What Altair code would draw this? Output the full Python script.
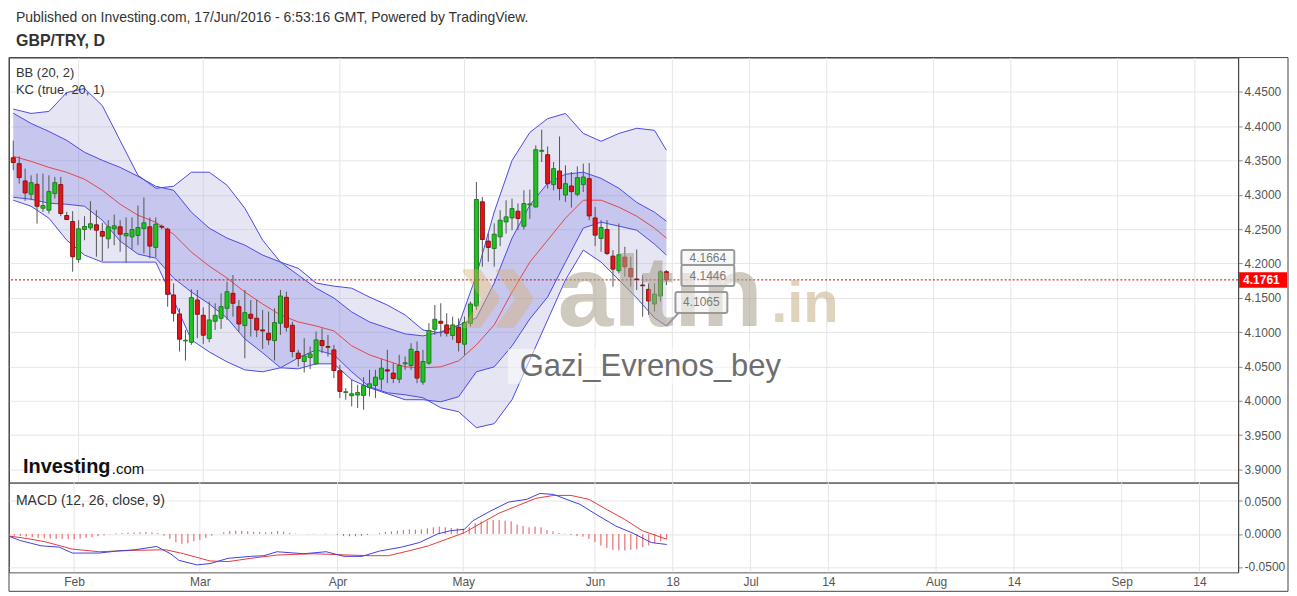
import altair as alt
import pandas as pd

# ---------------- data (bar index 0 = 15 Jan 2016 ... 110 = 17 Jun 2016) ----------------
opens = [4.354, 4.3454, 4.3203, 4.3009, 4.3154, 4.2805, 4.2776, 4.3018, 4.3149, 4.2699,
         4.2611, 4.2059, 4.2495, 4.2519, 4.2563, 4.2466, 4.2360, 4.2505, 4.2534, 4.2403,
         4.2389, 4.2408, 4.2510, 4.2534, 4.2234, 4.2540, 4.2500, 4.1541, 4.1265, 4.0872,
         4.0853, 4.1468, 4.1245, 4.0906, 4.1158, 4.1202, 4.1347, 4.1565, 4.1371, 4.1095,
         4.1260, 4.1202, 4.1032, 4.0984, 4.0877, 4.1129, 4.1507, 4.1100, 4.0693, 4.0572,
         4.0630, 4.0538, 4.0877, 4.0790, 4.0741, 4.0437, 4.0121, 4.0073, 4.0083, 4.0078,
         4.0194, 4.0223, 4.0315, 4.0451, 4.0403, 4.0315, 4.0538, 4.0514, 4.0717, 4.0272,
         4.0548, 4.1042, 4.1158, 4.1105, 4.0950, 4.1071, 4.0824, 4.1129, 4.1381, 4.2898,
         4.2326, 4.2219, 4.2388, 4.2606, 4.2664, 4.2761, 4.2543, 4.2853, 4.2824, 4.3634,
         4.3585, 4.3149, 4.3348, 4.2997, 4.3129, 4.3008, 4.3149, 4.3236, 4.2664, 4.2364,
         4.2495, 4.2107, 4.1894, 4.2093, 4.1928, 4.1773, 4.1686, 4.1623, 4.1410, 4.1526,
         4.1880]
highs = [4.379, 4.3561, 4.3382, 4.3285, 4.3309, 4.3309, 4.3285, 4.3261, 4.3261, 4.2752,
         4.2762, 4.2631, 4.2689, 4.2907, 4.2776, 4.2592, 4.2631, 4.2713, 4.2631, 4.2670,
         4.2670, 4.2844, 4.2960, 4.2670, 4.2670, 4.2565, 4.2520, 4.1710, 4.1347, 4.1032,
         4.1623, 4.1614, 4.1362, 4.1444, 4.1420, 4.1565, 4.1735, 4.1832, 4.1468, 4.1614,
         4.1468, 4.1468, 4.1323, 4.1299, 4.1347, 4.1614, 4.1589, 4.1153, 4.0741, 4.0911,
         4.0790, 4.1008, 4.1056, 4.0960, 4.0814, 4.0524, 4.0184, 4.0305, 4.0233, 4.0344,
         4.0451, 4.0451, 4.0606, 4.0742, 4.0548, 4.0669, 4.0645, 4.0839, 4.0863, 4.0742,
         4.1129, 4.1396, 4.1420, 4.1275, 4.1226, 4.1202, 4.1226, 4.1444, 4.3188, 4.2970,
         4.2437, 4.2583, 4.2776, 4.2921, 4.2945, 4.2873, 4.3067, 4.3076, 4.3721, 4.3948,
         4.3706, 4.3478, 4.3851, 4.3430, 4.3333, 4.3415, 4.3454, 4.3464, 4.2824, 4.2631,
         4.2631, 4.2195, 4.2582, 4.2243, 4.2098, 4.2204, 4.1831, 4.1710, 4.1710, 4.1904,
         4.1904]
lows = [4.336, 4.3164, 4.2912, 4.2922, 4.2582, 4.2752, 4.2728, 4.2946, 4.2689, 4.2631,
        4.1880, 4.2011, 4.2339, 4.2485, 4.2098, 4.2035, 4.2219, 4.2267, 4.2171, 4.2011,
        4.2204, 4.2267, 4.2146, 4.2074, 4.2088, 4.2500, 4.1370, 4.1153, 4.0717, 4.0586,
        4.0814, 4.0911, 4.0829, 4.0853, 4.1032, 4.1047, 4.1178, 4.1226, 4.1008, 4.0620,
        4.0935, 4.0926, 4.0756, 4.0814, 4.0586, 4.0960, 4.1008, 4.0635, 4.0499, 4.0412,
        4.0461, 4.0524, 4.0693, 4.0645, 4.0330, 4.0040, 4.0015, 3.9918, 3.9894, 3.9870,
        4.0063, 4.0039, 4.0160, 4.0257, 4.0257, 4.0257, 4.0451, 4.0451, 4.0257, 4.0233,
        4.0524, 4.0960, 4.0935, 4.0935, 4.0887, 4.0717, 4.0669, 4.1081, 4.1323, 4.1953,
        4.2026, 4.1952, 4.2253, 4.2437, 4.2485, 4.2485, 4.2495, 4.2650, 4.2815, 4.3478,
        4.3091, 4.3067, 4.2921, 4.2897, 4.2815, 4.2979, 4.3042, 4.2631, 4.2253, 4.2170,
        4.2122, 4.1662, 4.1855, 4.1807, 4.1662, 4.1613, 4.1225, 4.1250, 4.1298, 4.1444,
        4.1686]
closes = [4.347, 4.3251, 4.3028, 4.3178, 4.2834, 4.2844, 4.3048, 4.3178, 4.2728, 4.2641,
          4.2098, 4.2505, 4.2539, 4.2578, 4.2485, 4.2398, 4.2534, 4.2548, 4.2427, 4.2437,
          4.2495, 4.2524, 4.2592, 4.2253, 4.2573, 4.2530, 4.1551, 4.1274, 4.0897, 4.0882,
          4.1502, 4.1260, 4.0955, 4.1178, 4.1245, 4.1371, 4.1589, 4.1420, 4.1119, 4.1284,
          4.1202, 4.1032, 4.1017, 4.0887, 4.1139, 4.1526, 4.1071, 4.0717, 4.0615, 4.0654,
          4.0683, 4.0887, 4.0804, 4.0780, 4.0441, 4.0136, 4.0131, 4.0102, 4.0121, 4.0223,
          4.0247, 4.0344, 4.0475, 4.0432, 4.0325, 4.0514, 4.0553, 4.0751, 4.0330, 4.0572,
          4.1023, 4.1187, 4.1129, 4.0984, 4.1105, 4.0848, 4.1139, 4.1410, 4.2932, 4.2350,
          4.2234, 4.2427, 4.2631, 4.2679, 4.2800, 4.2655, 4.2873, 4.2868, 4.3658, 4.3648,
          4.3163, 4.3381, 4.3091, 4.3163, 4.3047, 4.3251, 4.3260, 4.2693, 4.2413, 4.2524,
          4.2146, 4.1918, 4.2127, 4.1952, 4.1807, 4.1768, 4.1676, 4.1453, 4.1555, 4.1880,
          4.1761]

band_idx = [0, 3, 6, 9, 12, 15, 18, 21, 24, 27, 30, 33, 36, 39, 42, 45, 48, 51, 54, 57,
            60, 63, 66, 69, 72, 75, 78, 81, 84, 87, 90, 93, 96, 99, 102, 105, 108, 110]
bb_upper = [4.425, 4.4186, 4.4215, 4.449, 4.455, 4.430, 4.379, 4.3285, 4.3096, 4.3125,
            4.333, 4.333, 4.314, 4.2805, 4.234, 4.202, 4.193, 4.1715, 4.167, 4.164,
            4.151, 4.1395, 4.125, 4.103, 4.099, 4.110, 4.183, 4.275, 4.350, 4.391,
            4.411, 4.4186, 4.3895, 4.378, 4.3895, 4.397, 4.394, 4.365]
bb_lower = [4.2922, 4.2834, 4.266, 4.234, 4.2122, 4.202, 4.202, 4.202, 4.202, 4.1468,
            4.0887, 4.0712, 4.0567, 4.045, 4.0422, 4.048, 4.0625, 4.0741, 4.0669, 4.0422,
            4.0203, 4.0116, 4.0087, 4.0044, 3.9898, 3.984, 3.9608, 3.9666, 4.0015, 4.0596,
            4.1177, 4.1759, 4.2195, 4.202, 4.1759, 4.1497, 4.1206, 4.109]
kc_upper = [4.4190, 4.404, 4.3924, 4.3794, 4.362, 4.3503, 4.340, 4.327, 4.3125, 4.3067,
            4.2747, 4.2515, 4.237, 4.2267, 4.2122, 4.202, 4.183, 4.1642, 4.1497, 4.1294,
            4.1148, 4.1061, 4.0974, 4.0945, 4.1003, 4.110, 4.1206, 4.1715, 4.237, 4.285,
            4.317, 4.330, 4.333, 4.324, 4.3096, 4.289, 4.2747, 4.2616]
kc_mid = [4.3561, 4.3488, 4.340, 4.3328, 4.3227, 4.3067, 4.2863, 4.2703, 4.260, 4.2427,
          4.2166, 4.1962, 4.1788, 4.1584, 4.141, 4.125, 4.1148, 4.109, 4.1017, 4.080,
          4.0669, 4.0581, 4.0494, 4.048, 4.0494, 4.0581, 4.0814, 4.1105, 4.1584, 4.202,
          4.234, 4.266, 4.2922, 4.2922, 4.282, 4.2689, 4.2515, 4.2369]
kc_lower = [4.2965, 4.2936, 4.2878, 4.2863, 4.2834, 4.263, 4.2326, 4.2137, 4.2078, 4.1788,
            4.1584, 4.1410, 4.1206, 4.0901, 4.0698, 4.048, 4.0465, 4.0538, 4.0538, 4.0305,
            4.0189, 4.0102, 4.0015, 4.0015, 3.9985, 4.0058, 4.0422, 4.0494, 4.0799, 4.1192,
            4.1512, 4.2020, 4.2515, 4.2602, 4.2544, 4.2485, 4.2282, 4.2122]

macd_idx = [0, 2, 5.5, 8.5, 10.7, 15.2, 18.1, 21.1, 24.8, 27.1, 28.5, 31.5, 33.7, 36.7,
            40.5, 42.7, 44.9, 49.4, 53.1, 56.1, 59.1, 62, 65.7, 68.7, 71.7, 73.9, 76.2,
            77.6, 80.6, 83.6, 86.6, 88.8, 91.1, 94, 95.5, 98.5, 101.5, 104.4, 107.4, 110]
macd_vals = [-0.003, -0.010, -0.018, -0.020, -0.029, -0.029, -0.026, -0.024, -0.019, -0.030,
             -0.040, -0.047, -0.045, -0.037, -0.034, -0.033, -0.027, -0.030, -0.027, -0.034,
             -0.034, -0.026, -0.020, -0.013, 0.000, 0.005, 0.007, 0.020, 0.035, 0.0485,
             0.0525, 0.0615, 0.060, 0.050, 0.045, 0.028, 0.012, 0.001, -0.013, -0.016]
signal_idx = [0, 3.2, 6.2, 10.7, 15.2, 20.4, 26.3, 29.3, 33.7, 36.7, 40.5, 44.9, 50.9, 56.8,
              60.5, 63.5, 67.2, 70.2, 73.2, 76.2, 79.1, 82.1, 85.1, 88.1, 91.1, 94, 97, 100,
              103, 105.9, 110]
signal_vals = [-0.003, -0.007, -0.012, -0.023, -0.027, -0.025, -0.024, -0.030, -0.041, -0.042,
               -0.037, -0.032, -0.030, -0.032, -0.033, -0.033, -0.025, -0.018, -0.008, 0.002,
               0.017, 0.032, 0.043, 0.054, 0.0585, 0.0585, 0.0525, 0.037, 0.022, 0.005, -0.008]
hist_vals = [-0.0015, -0.0025, -0.0030, -0.0040, -0.0050, -0.0060, -0.0065, -0.0070, -0.0075, -0.0075,
             -0.0080, -0.0080, -0.0070, -0.0060, -0.0050, -0.0035, -0.0020, -0.0005, 0.0010, 0.0015,
             0.0020, 0.0020, 0.0025, 0.0030, 0.0025, 0.0015, -0.0025, -0.0075, -0.0126, -0.0151,
             -0.0141, -0.0111, -0.0091, -0.0060, -0.0025, 0.0, 0.0025, 0.0045, 0.0050, 0.0045,
             0.0040, 0.0035, 0.0030, 0.0025, 0.0030, 0.0045, 0.0035, 0.0015, 0.0005, 0.0,
             -0.0005, 0.0005, 0.0, 0.0005, 0.0, -0.0015, -0.0030, -0.0035, -0.0035, -0.0030,
             -0.0015, 0.0, 0.0015, 0.0030, 0.0040, 0.0050, 0.0060, 0.0070, 0.0065, 0.0070,
             0.0086, 0.0101, 0.0111, 0.0101, 0.0091, 0.0086, 0.0080, 0.0101, 0.0161, 0.0191,
             0.0201, 0.0211, 0.0211, 0.0201, 0.0191, 0.0141, 0.0121, 0.0101, 0.0111, 0.0101,
             0.0060, 0.0040, 0.0015, 0.0005, -0.0015, -0.0030, -0.0040, -0.0075, -0.0121, -0.0176,
             -0.0211, -0.0241, -0.0252, -0.0252, -0.0241, -0.0231, -0.0201, -0.0176, -0.0141, -0.0111,
             -0.0075]

tick_idx = [11, 32, 55, 76, 98, 111, 124, 137, 155, 168, 186, 199]
tick_labels = ["Feb", "Mar", "Apr", "May", "Jun", "18", "Jul", "14", "Aug", "14", "Sep", "14"]
price_ticks = [3.90, 3.95, 4.00, 4.05, 4.10, 4.15, 4.20, 4.25, 4.30, 4.35, 4.40, 4.45]
macd_ticks = [-0.05, 0.0, 0.05]
last_price = 4.1761
callout_labels = ["4.1664", "4.1446", "4.1065"]

# ---------------- layout constants ----------------
FONT = "Liberation Sans"
W = 1232
H_PRICE = 426
H_MACD = 90
X_DOMAIN = [0.12, 205.45]
P_DOMAIN = [3.8808, 4.5]
M_DOMAIN = [-0.0583, 0.078]

n = len(opens)
candles = pd.DataFrame({
    "i": list(range(n)), "open": opens, "high": highs, "low": lows, "close": closes,
})
candles["dir"] = ["up" if c >= o else "down" for o, c in zip(opens, closes)]
bands = pd.DataFrame({"i": band_idx, "bbu": bb_upper, "bbl": bb_lower,
                      "kcu": kc_upper, "kcm": kc_mid, "kcl": kc_lower})
macd_df = pd.DataFrame({"i": macd_idx, "v": macd_vals})
sig_df = pd.DataFrame({"i": signal_idx, "v": signal_vals})
hist_df = pd.DataFrame({"i": list(range(n)), "h": hist_vals, "z": [0.0] * n})
ticks_df = pd.DataFrame({"i": tick_idx, "label": tick_labels})
one = pd.DataFrame({"k": [0]})
last_df = pd.DataFrame({"p": [last_price], "hi": [last_price + 0.0113], "lo": [last_price - 0.0113],
                        "s": [f"{last_price:.4f}"]})

xs = alt.Scale(domain=X_DOMAIN, nice=False, zero=False)
ps = alt.Scale(domain=P_DOMAIN, nice=False, zero=False)
ms = alt.Scale(domain=M_DOMAIN, nice=False, zero=False)

price_axis = alt.Axis(orient="right", values=price_ticks, format=".4f", grid=True,
                      gridColor="#e6e6e6", domainColor="#444", tickColor="#888",
                      tickSize=4, labelColor="#555", labelFontSize=12, labelFont=FONT,
                      labelPadding=2, title=None)
label_map = "{" + ",".join(f"'{i}':'{l}'" for i, l in zip(tick_idx, tick_labels)) + "}"
x_axis = alt.Axis(values=tick_idx, labelExpr=f"{label_map}['' + datum.value]", grid=False,
                  ticks=False, domain=False, labelColor="#555", labelFontSize=12, labelFont=FONT,
                  labelPadding=4, labelOverlap=False, labelFlush=False, title=None)
macd_axis = alt.Axis(orient="right", values=macd_ticks, grid=True, gridColor="#e6e6e6",
                     labelExpr="datum.value < 0 ? '-' + format(-datum.value, '.4f') : format(datum.value, '.4f')",
                     domainColor="#444", tickColor="#888", tickSize=4, labelColor="#555",
                     labelFontSize=12, labelFont=FONT, labelPadding=2, title=None)

XP = alt.X("i:Q", scale=xs, axis=None)


def PY(field):
    return alt.Y(field, scale=ps, axis=price_axis)


XM = alt.X("i:Q", scale=xs, axis=x_axis)


def MY(field):
    return alt.Y(field, scale=ms, axis=macd_axis)


vgrid = alt.Chart(ticks_df).mark_rule(color="#e6e6e6", strokeWidth=1).encode(x=XP)

bb_area = alt.Chart(bands).mark_area(color="#a3a3d3", opacity=0.28, clip=True).encode(
    x=XP, y=PY("bbl:Q"), y2="bbu:Q")
kc_area = alt.Chart(bands).mark_area(color="#5a5ae0", opacity=0.22, clip=True).encode(
    x=XP, y=PY("kcl:Q"), y2="kcu:Q")


def band_line(col, color):
    return alt.Chart(bands).mark_line(color=color, strokeWidth=1, clip=True).encode(
        x=XP, y=PY(f"{col}:Q"))


lines = [band_line("bbu", "#4a4ae6"), band_line("bbl", "#4a4ae6"),
         band_line("kcu", "#4a4ae6"), band_line("kcl", "#4a4ae6"),
         band_line("kcm", "#e04848")]

wicks = alt.Chart(candles).mark_rule(color="#555555", strokeWidth=1, clip=True).encode(
    x=XP, y=PY("low:Q"), y2="high:Q")
bodies = alt.Chart(candles).mark_bar(size=4, strokeWidth=1, clip=True).encode(
    x=XP, y=PY("open:Q"), y2="close:Q",
    fill=alt.Fill("dir:N", scale=alt.Scale(domain=["up", "down"], range=["#1ec41e", "#e3141a"]), legend=None),
    stroke=alt.Stroke("dir:N", scale=alt.Scale(domain=["up", "down"], range=["#237a23", "#8c1212"]), legend=None),
)

last_line = alt.Chart(last_df).mark_rule(color="#cc0000", strokeDash=[2, 2], strokeWidth=1).encode(
    y=PY("p:Q"))
tag_box = alt.Chart(last_df).mark_rect(color="#ff0000").encode(
    x=alt.value(1233), x2=alt.value(1281), y=PY("hi:Q"), y2="lo:Q")
tag_text = alt.Chart(last_df).mark_text(color="white", fontWeight="bold", fontSize=12, font=FONT,
                                        align="left", baseline="middle").encode(
    x=alt.value(1237), y=PY("p:Q"), text="s:N")


def txt(s, x, y, size=12, weight="normal", color="#333333", align="left", **kw):
    return alt.Chart(one).mark_text(align=align, baseline="middle", fontSize=size,
                                    fontWeight=weight, color=color, font=FONT, text=s, **kw).encode(
        x=alt.value(x), y=alt.value(y))


# guard for top extent (white on white), outer frame
guard = alt.Chart(one).mark_rect(color="white").encode(
    x=alt.value(0), x2=alt.value(2), y=alt.value(-48), y2=alt.value(-47))
frame = alt.Chart(one).mark_rect(fill="transparent", stroke="#444444", strokeWidth=1).encode(
    x=alt.value(0), x2=alt.value(1282), y=alt.value(0), y2=alt.value(535))

# watermarks & callouts
chevron = txt("»", 448, 236, size=150, weight="bold", color="#dcae6a", opacity=0.4)
wm_box = alt.Chart(one).mark_rect(color="white", opacity=0.5).encode(
    x=alt.value(500), x2=alt.value(782), y=alt.value(292), y2=alt.value(327))
wm_text = txt("Gazi_Evrenos_bey", 512, 310, size=31, color="#6e6e6e")
logo1 = txt("altın", 550, 239, size=100, weight="bold", color="#a99f8b", opacity=0.55)
logo2 = txt(".in", 764, 248, size=58, weight="bold", color="#cdb692", opacity=0.6)


def callout(x1, x2, y1, y2, s):
    box = alt.Chart(one).mark_rect(fill="#f4f4f4", fillOpacity=0.6, stroke="#9a9a9a", strokeWidth=2,
                                   cornerRadius=2).encode(
        x=alt.value(x1), x2=alt.value(x2), y=alt.value(y1), y2=alt.value(y2))
    t = txt(s, (x1 + x2) / 2, (y1 + y2) / 2, size=12, color="#7a7a7a", align="center")
    return [box, t]


pointer = alt.Chart(one).mark_rule(color="#9a9a9a", strokeWidth=2).encode(
    x=alt.value(672), y=alt.value(255), x2=alt.value(659), y2=alt.value(269))
callouts = (callout(674, 727, 193, 208, callout_labels[0]) +
            callout(674, 727, 208, 229, callout_labels[1]) +
            callout(668, 720, 235, 256, callout_labels[2]))

investing = txt("Investing", 14, 410, size=20, weight="bold", color="#111111")
dotcom = txt(".com", 103, 412, size=15, color="#111111")

price = alt.layer(
    vgrid, bb_area, kc_area, *lines, wicks, bodies, last_line,
    chevron, wm_box, wm_text, logo1, logo2, pointer, *callouts,
    tag_box, tag_text,
    txt("BB (20, 2)", 7, 15, size=13), txt("KC (true, 20, 1)", 7, 33, size=13),
    txt("Published on Investing.com, 17/Jun/2016 - 6:53:16 GMT, Powered by TradingView.", 7, -40, size=14),
    txt("GBP/TRY, D", 7, -17, size=16, weight="bold"),
    investing, dotcom, guard, frame,
).properties(width=W, height=H_PRICE)

# ---------------- MACD pane ----------------
mgrid = alt.Chart(ticks_df).mark_rule(color="#e6e6e6", strokeWidth=1).encode(x=XM)
hist = alt.Chart(hist_df).mark_rule(color="#e05555", strokeWidth=1, clip=True).encode(
    x=XM, y=MY("z:Q"), y2="h:Q")
macd_line = alt.Chart(macd_df).mark_line(color="#4040e0", strokeWidth=1, clip=True).encode(
    x=XM, y=MY("v:Q"))
sig_line = alt.Chart(sig_df).mark_line(color="#e83a3a", strokeWidth=1, clip=True).encode(
    x=XM, y=MY("v:Q"))

macd = alt.layer(mgrid, hist, sig_line, macd_line,
                 txt("MACD (12, 26, close, 9)", 7, 18, size=14)).properties(width=W, height=H_MACD)

chart = alt.vconcat(price, macd, spacing=0, bounds="flush").properties(
    padding=0, background="white"
).configure_view(stroke="#555555")

chart.save("out.html", embed_options={"renderer": "svg", "actions": False})
